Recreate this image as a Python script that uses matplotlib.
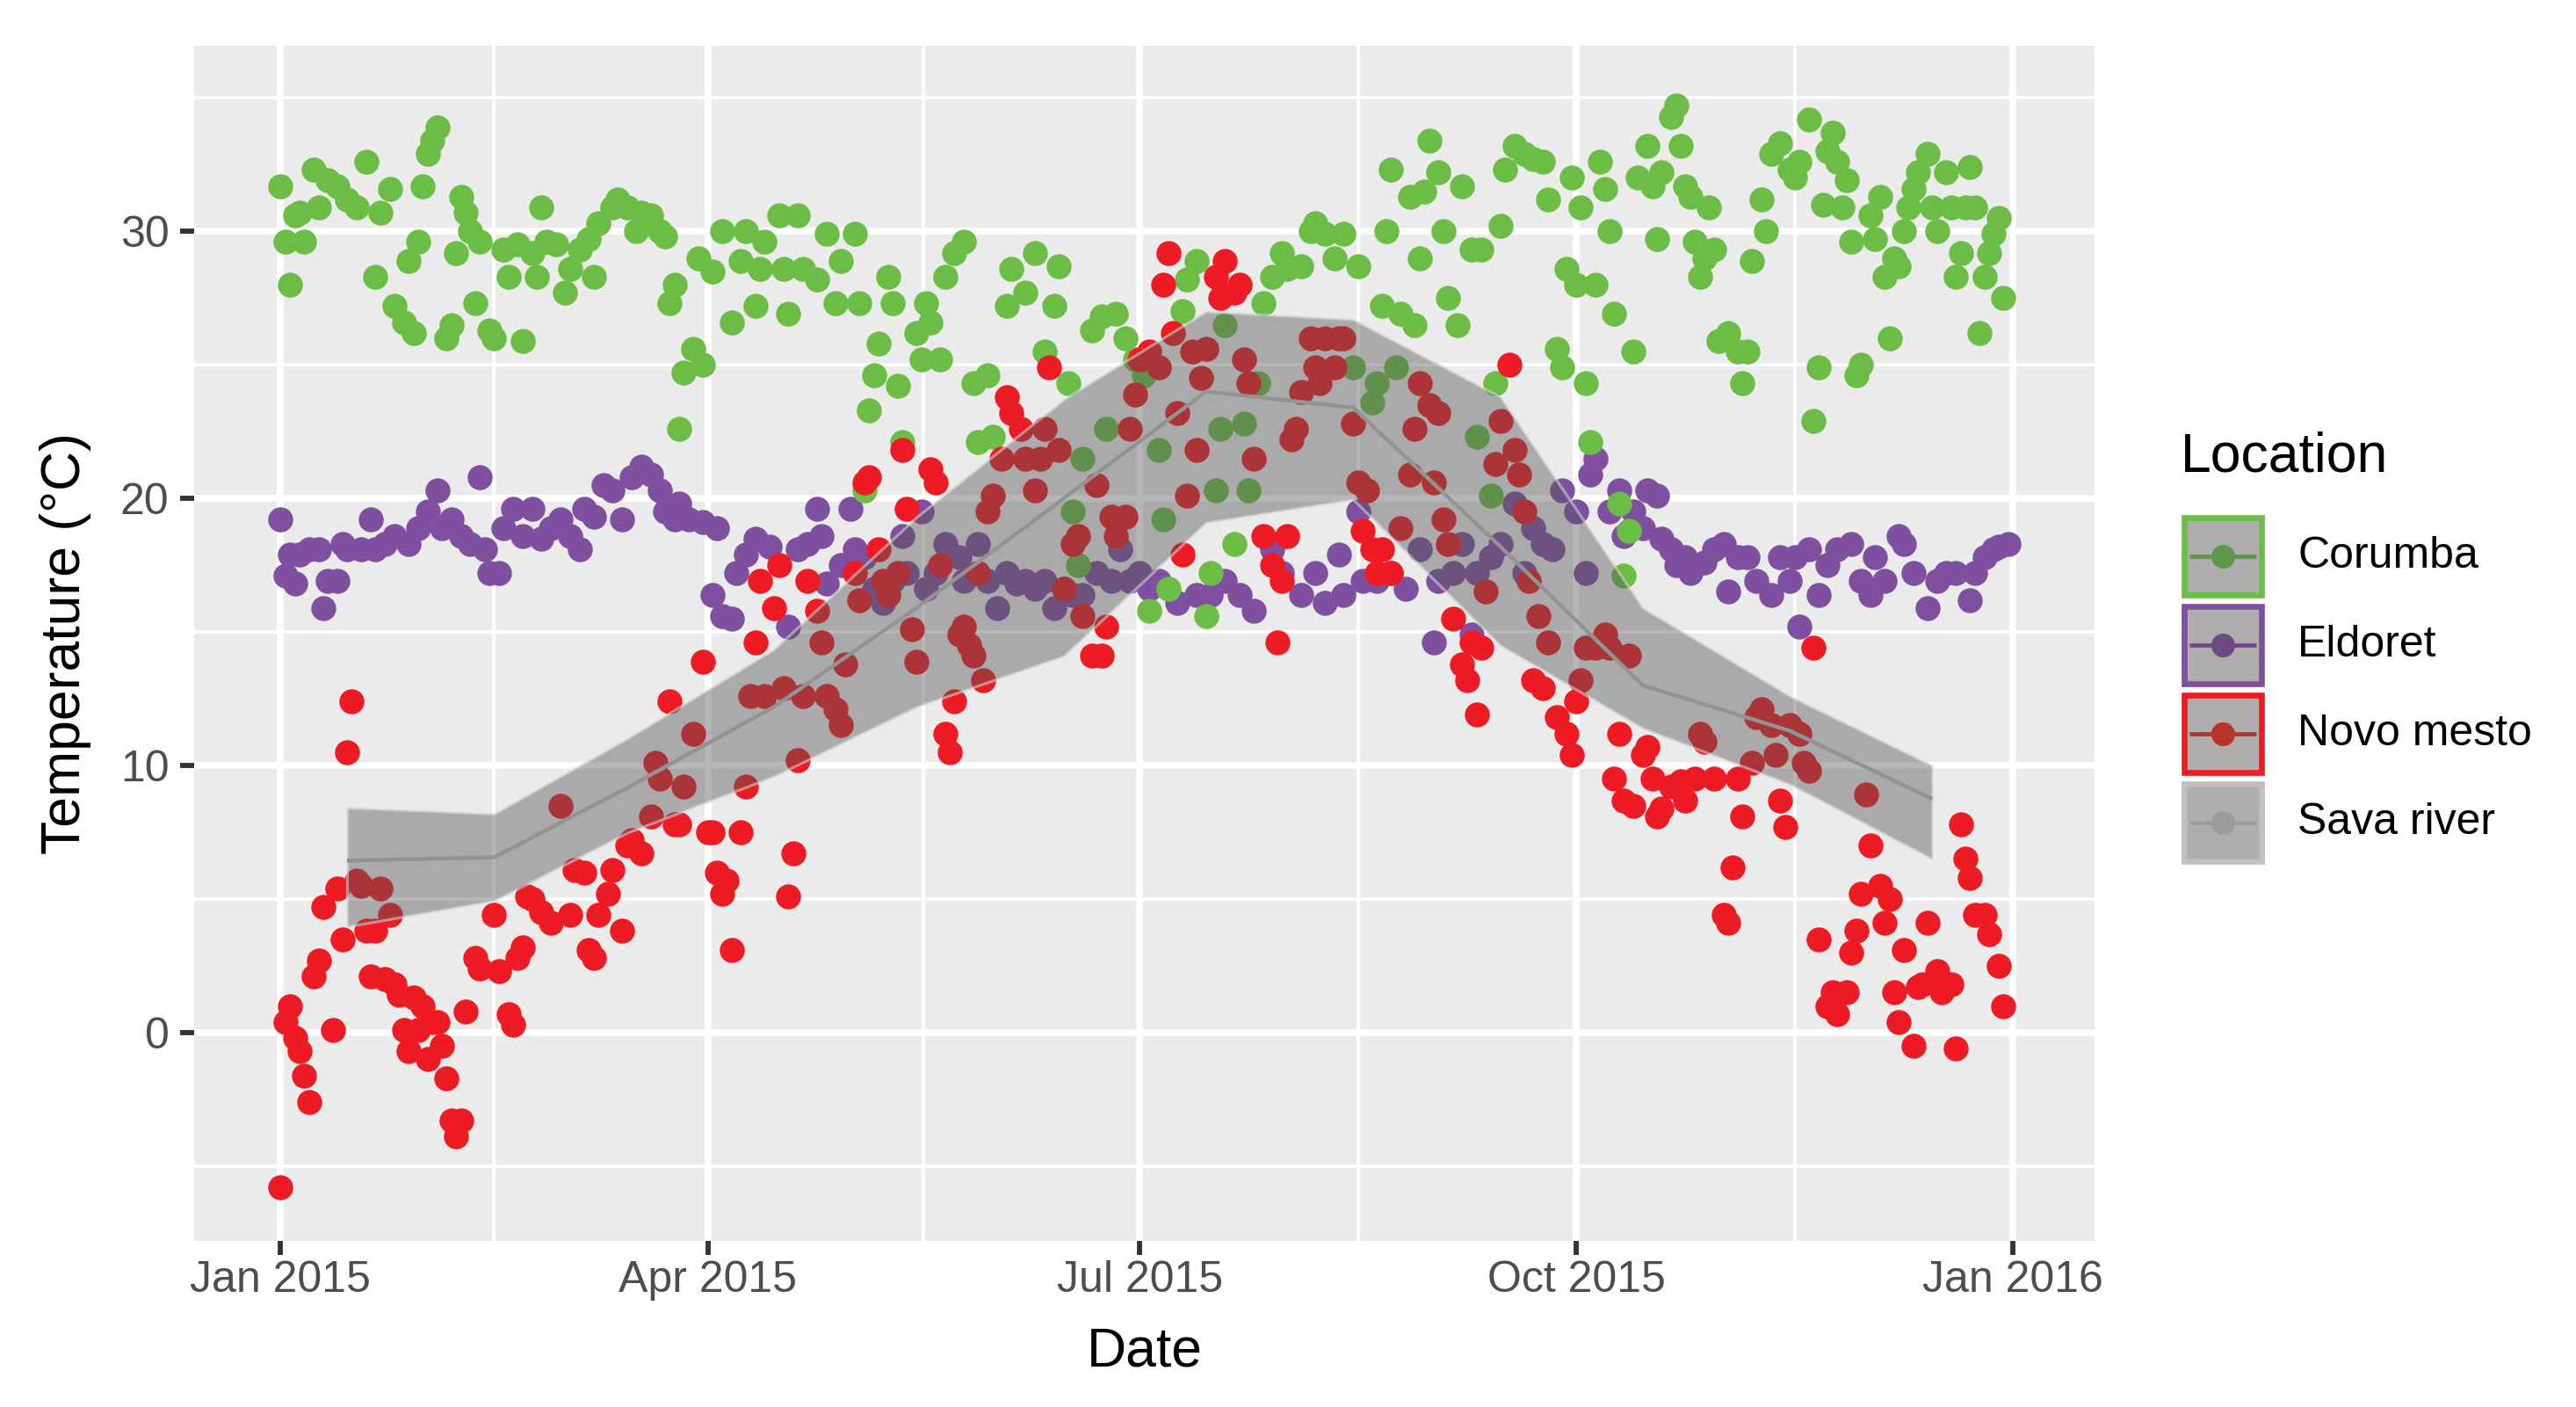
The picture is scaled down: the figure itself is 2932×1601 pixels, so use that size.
import numpy as np
import matplotlib
matplotlib.use("Agg")
import matplotlib.pyplot as plt
import matplotlib.dates as mdates
from matplotlib.patches import Rectangle

plt.rcParams['font.family'] = ['Liberation Sans', 'DejaVu Sans']

# ---------------- data (day offset from 2015-01-01, temperature) ----------------
corumba_day = [0, 1, 2, 3, 4, 5, 7, 8, 10, 12,
               14, 16, 18, 20, 21, 23, 24, 26, 27, 28,
               29, 30, 31, 32, 33, 35, 36, 37, 38, 39,
               40, 41, 42, 44, 45, 47, 48, 50, 51, 53,
               54, 55, 56, 58, 60, 61, 63, 65, 66, 67,
               70, 71, 73, 75, 76, 78, 80, 81, 82, 83,
               84, 85, 87, 88, 89, 91, 93, 95, 97, 98,
               100, 101, 102, 105, 106, 107, 109, 110, 113, 115,
               117, 118, 121, 122, 123, 124, 125, 126, 128, 129,
               130, 131, 134, 135, 136, 137, 139, 140, 142, 144,
               146, 147, 149, 150, 153, 154, 157, 159, 161, 163,
               164, 166, 167, 168, 169, 171, 173, 174, 176, 178,
               180, 182, 183, 185, 186, 187, 190, 191, 193, 195,
               196, 197, 198, 199, 201, 203, 204, 206, 207, 209,
               211, 212, 215, 217, 218, 220, 222, 224, 226, 227,
               230, 231, 232, 233, 234, 235, 236, 238, 239, 240,
               241, 242, 244, 245, 246, 248, 249, 251, 252, 253,
               255, 256, 257, 258, 260, 262, 264, 266, 267, 269,
               270, 271, 272, 273, 274, 275, 276, 277, 278, 279,
               280, 281, 282, 283, 284, 285, 286, 288, 289, 290,
               291, 293, 294, 295, 296, 297, 298, 299, 300, 301,
               302, 303, 305, 307, 308, 309, 310, 312, 313, 314,
               316, 318, 319, 320, 322, 323, 324, 325, 326, 327,
               328, 329, 330, 331, 332, 333, 335, 336, 337, 338,
               339, 340, 341, 342, 343, 344, 345, 347, 348, 349,
               351, 352, 353, 354, 355, 356, 357, 358, 359, 360,
               361, 362, 363]
corumba_temp = [31.7, 29.6, 28.0, 30.6, 30.7, 29.6, 32.3, 30.9, 31.9, 31.7,
                31.2, 30.9, 32.6, 28.3, 30.7, 31.6, 27.2, 26.6, 28.9, 26.2,
                29.6, 31.7, 32.9, 33.4, 33.9, 26.0, 26.5, 29.2, 31.3, 30.7,
                30.0, 27.3, 29.6, 26.3, 26.0, 29.3, 28.3, 29.5, 25.9, 29.2,
                28.3, 30.9, 29.6, 29.5, 27.7, 28.6, 29.3, 29.7, 28.3, 30.3,
                30.9, 31.2, 30.9, 30.0, 30.7, 30.6, 30.0, 29.8, 27.3, 28.0,
                22.6, 24.7, 25.6, 29.0, 25.0, 28.5, 30.0, 26.6, 28.9, 30.0,
                27.2, 28.6, 29.6, 30.6, 28.6, 26.9, 30.6, 28.6, 28.2, 29.9,
                27.3, 28.9, 29.9, 27.3, 20.3, 23.3, 24.6, 25.8, 28.3, 27.3,
                24.2, 22.1, 26.2, 25.2, 27.3, 26.6, 25.2, 28.3, 29.2, 29.6,
                24.3, 22.1, 24.6, 22.3, 27.2, 28.6, 27.7, 29.2, 25.5, 27.2,
                28.7, 24.3, 19.5, 17.5, 21.5, 26.3, 26.8, 22.6, 26.9, 26.0,
                25.2, 24.6, 15.8, 21.8, 19.2, 16.6, 27.0, 28.2, 28.9, 15.6,
                17.2, 20.3, 22.6, 26.5, 18.3, 22.8, 20.3, 24.3, 27.3, 28.3,
                29.2, 28.6, 28.7, 30.0, 30.3, 29.9, 29.0, 29.9, 24.9, 28.7,
                23.6, 24.3, 27.2, 30.0, 32.3, 24.9, 26.9, 31.3, 26.5, 29.0,
                31.5, 33.4, 32.2, 30.0, 27.5, 26.5, 31.7, 29.3, 22.3, 29.3,
                20.1, 24.3, 30.2, 32.3, 33.2, 32.9, 32.7, 32.6, 31.2, 25.6,
                24.9, 28.6, 32.0, 28.0, 30.9, 24.3, 22.1, 28.0, 32.6, 31.6,
                30.0, 26.9, 19.8, 17.1, 18.8, 25.5, 32.0, 33.2, 31.7, 29.7,
                32.2, 34.3, 34.7, 33.2, 31.7, 31.3, 29.6, 28.3, 29.0, 30.9,
                29.3, 25.9, 26.2, 25.5, 24.3, 25.5, 28.9, 31.2, 30.0, 32.9,
                33.3, 32.3, 32.0, 32.6, 34.2, 22.9, 24.9, 31.0, 33.0, 33.7,
                32.6, 30.9, 31.9, 29.6, 24.6, 25.0, 30.6, 29.7, 31.3, 28.3,
                26.0, 29.0, 28.7, 30.0, 30.9, 31.6, 32.2, 32.9, 30.9, 30.0,
                32.2, 30.9, 28.3, 29.2, 30.9, 32.4, 30.9, 26.2, 28.3, 29.2,
                29.9, 30.5, 27.5]

eldoret_day = [0, 1, 2, 3, 4, 6, 8, 9, 10, 12,
               13, 14, 17, 19, 20, 22, 24, 27, 29, 31,
               33, 34, 36, 38, 40, 42, 43, 44, 46, 47,
               49, 51, 53, 55, 57, 59, 61, 63, 64, 66,
               68, 70, 72, 74, 76, 78, 80, 81, 83, 84,
               86, 89, 91, 92, 93, 95, 96, 98, 100, 103,
               107, 109, 111, 113, 114, 115, 118, 120, 121, 123,
               125, 127, 129, 131, 132, 135, 136, 138, 140, 143,
               144, 147, 149, 151, 153, 155, 157, 159, 161, 163,
               165, 167, 169, 172, 175, 177, 179, 181, 183, 185,
               189, 193, 196, 199, 202, 205, 209, 211, 215, 218,
               220, 223, 224, 227, 228, 231, 234, 237, 240, 243,
               244, 247, 249, 251, 252, 255, 257, 260, 262, 264,
               266, 268, 270, 273, 275, 276, 277, 280, 282, 283,
               285, 287, 288, 290, 291, 293, 294, 296, 297, 300,
               302, 304, 305, 307, 309, 311, 314, 316, 318, 319,
               320, 322, 324, 326, 328, 331, 333, 335, 336, 338,
               341, 342, 344, 347, 349, 351, 353, 356, 357, 359,
               361, 362, 364]
eldoret_temp = [19.2, 17.1, 17.9, 16.8, 17.9, 18.1, 18.1, 15.9, 16.9, 16.9,
                18.3, 18.1, 18.1, 19.2, 18.1, 18.3, 18.6, 18.3, 18.9, 19.5,
                20.3, 18.9, 19.2, 18.6, 18.3, 20.8, 18.1, 17.2, 17.2, 18.9,
                19.6, 18.6, 19.6, 18.5, 18.9, 19.2, 18.6, 18.1, 19.6, 19.3,
                20.5, 20.3, 19.2, 20.8, 21.2, 20.9, 20.3, 19.5, 19.2, 19.8,
                19.2, 19.1, 16.4, 18.9, 15.6, 15.5, 17.2, 17.9, 18.5, 18.2,
                15.2, 18.1, 18.3, 19.6, 18.6, 16.8, 17.5, 19.6, 18.1, 17.8,
                16.6, 16.1, 16.9, 18.6, 17.2, 19.5, 16.6, 17.2, 18.3, 17.8,
                16.9, 18.3, 16.9, 15.9, 17.2, 16.8, 16.9, 16.6, 16.9, 15.9,
                16.6, 16.4, 16.4, 17.2, 16.9, 18.1, 16.9, 17.2, 16.6, 16.9,
                16.1, 16.4, 16.4, 16.9, 16.4, 15.8, 18.1, 17.2, 16.4, 17.2,
                16.1, 17.9, 16.4, 19.5, 16.9, 16.9, 17.2, 16.6, 18.1, 14.6,
                16.9, 17.2, 18.3, 14.9, 17.2, 17.8, 18.3, 19.8, 17.2, 18.9,
                18.3, 18.1, 20.3, 19.5, 17.2, 20.9, 21.5, 19.5, 20.3, 18.6,
                19.5, 18.9, 20.3, 20.1, 18.5, 18.1, 17.5, 17.8, 17.2, 17.6,
                18.1, 18.3, 16.5, 17.8, 17.8, 16.9, 16.4, 17.8, 16.9, 17.8,
                15.2, 18.1, 16.4, 17.5, 18.1, 18.3, 16.9, 16.4, 17.8, 16.9,
                18.6, 18.3, 17.2, 15.9, 16.9, 17.2, 17.2, 16.2, 17.2, 17.8,
                18.1, 18.2, 18.3]

novo_day = [0, 1, 2, 3, 4, 5, 6, 7, 8, 9,
            11, 12, 13, 14, 15, 16, 17, 18, 19, 20,
            21, 22, 23, 24, 25, 26, 27, 28, 29, 30,
            31, 32, 33, 34, 35, 36, 37, 38, 39, 41,
            42, 45, 46, 48, 49, 50, 51, 52, 53, 55,
            57, 59, 61, 62, 64, 65, 66, 67, 69, 70,
            72, 73, 74, 76, 78, 79, 80, 82, 83, 84,
            85, 87, 89, 90, 91, 92, 93, 94, 95, 97,
            98, 99, 100, 101, 102, 104, 105, 106, 107, 108,
            109, 110, 111, 113, 114, 115, 117, 118, 119, 121,
            122, 123, 124, 126, 127, 128, 130, 131, 132, 133,
            134, 137, 138, 139, 140, 141, 142, 143, 144, 145,
            146, 147, 148, 149, 150, 152, 153, 154, 156, 157,
            159, 160, 161, 162, 164, 165, 167, 168, 169, 171,
            172, 173, 174, 175, 176, 178, 179, 180, 181, 183,
            185, 186, 187, 188, 189, 190, 191, 192, 193, 194,
            195, 197, 198, 199, 201, 202, 203, 204, 205, 207,
            209, 210, 211, 212, 213, 214, 215, 217, 218, 219,
            220, 222, 223, 224, 226, 227, 228, 229, 230, 231,
            232, 234, 236, 238, 239, 240, 242, 243, 244, 245,
            246, 247, 249, 250, 251, 252, 253, 254, 256, 257,
            259, 260, 261, 262, 263, 264, 265, 266, 267, 269,
            271, 272, 273, 274, 275, 277, 279, 280, 281, 282,
            283, 284, 285, 287, 288, 289, 290, 291, 293, 295,
            296, 298, 299, 300, 302, 304, 305, 306, 307, 308,
            310, 311, 312, 314, 315, 316, 317, 318, 320, 321,
            322, 323, 324, 326, 327, 328, 330, 331, 332, 333,
            334, 335, 337, 338, 339, 340, 341, 342, 344, 345,
            346, 347, 349, 350, 351, 352, 353, 354, 355, 356,
            357, 359, 360, 362, 363]
novo_temp = [-5.8, 0.4, 1.0, -0.2, -0.7, -1.6, -2.6, 2.1, 2.7, 4.7,
             0.1, 5.4, 3.5, 10.5, 12.4, 5.7, 5.5, 3.8, 2.1, 3.8,
             5.4, 2.0, 4.4, 1.8, 1.4, 0.1, -0.7, 1.3, 0.1, 1.0,
             -1.0, 0.4, 0.4, -0.5, -1.7, -3.3, -3.9, -3.3, 0.8, 2.8,
             2.4, 4.4, 2.3, 0.7, 0.3, 2.8, 3.2, 5.1, 5.0, 4.5,
             4.1, 8.5, 4.4, 6.1, 6.0, 3.1, 2.8, 4.4, 5.2, 6.1,
             3.8, 7.0, 7.2, 6.7, 8.1, 10.1, 9.5, 12.4, 7.8, 7.8,
             9.2, 11.2, 13.9, 7.5, 7.5, 6.0, 5.2, 5.7, 3.1, 7.5,
             9.2, 12.6, 14.6, 16.9, 12.6, 15.9, 17.5, 12.9, 5.1, 6.7,
             10.2, 12.6, 16.9, 15.8, 14.6, 12.6, 12.1, 11.5, 13.8, 17.2,
             16.2, 20.6, 20.8, 18.1, 16.9, 16.4, 17.2, 21.8, 19.6, 15.1,
             13.9, 21.1, 20.6, 17.5, 11.2, 10.5, 12.4, 14.9, 15.2, 14.5,
             14.1, 17.2, 13.2, 19.5, 20.1, 21.5, 23.8, 23.2, 22.6, 21.5,
             20.3, 21.5, 22.6, 24.9, 21.8, 16.6, 18.3, 18.6, 15.6, 14.1,
             20.5, 14.1, 15.2, 19.3, 18.6, 19.3, 22.6, 23.9, 25.2, 25.5,
             24.9, 28.0, 29.2, 26.2, 23.2, 17.9, 20.1, 25.5, 21.8, 24.5,
             25.6, 28.3, 27.5, 28.9, 27.7, 28.0, 25.2, 24.3, 21.5, 18.6,
             17.5, 14.6, 16.9, 18.6, 22.2, 22.6, 24.0, 26.0, 24.9, 24.3,
             26.0, 24.9, 26.0, 26.0, 22.8, 20.6, 18.8, 20.3, 18.1, 17.2,
             18.1, 17.2, 18.9, 20.9, 22.6, 24.3, 23.5, 20.6, 23.2, 19.2,
             18.3, 15.5, 13.8, 13.2, 14.6, 11.9, 14.4, 16.5, 21.3, 22.9,
             25.0, 21.8, 20.9, 19.5, 16.9, 13.2, 15.6, 12.9, 14.6, 11.8,
             11.2, 10.4, 12.4, 13.2, 14.4, 14.4, 14.9, 14.4, 9.5, 11.2,
             8.7, 14.1, 8.5, 10.4, 10.7, 9.5, 8.1, 8.4, 9.2, 9.4,
             8.7, 9.5, 11.2, 10.9, 9.5, 4.4, 4.1, 6.2, 9.5, 8.1,
             10.1, 11.8, 12.1, 11.5, 10.4, 8.7, 7.7, 11.5, 11.2, 10.1,
             9.8, 14.4, 3.5, 1.0, 1.5, 0.7, 1.5, 3.0, 3.8, 5.2,
             8.9, 7.0, 5.5, 4.1, 5.0, 1.5, 0.4, 3.1, -0.5, 1.7,
             1.8, 4.1, 2.3, 1.5, 1.8, 1.8, -0.6, 7.8, 6.5, 5.8,
             4.4, 4.4, 3.7, 2.5, 1.0]

# Sava river: monthly values (mid-month)
sava_day = [14, 45, 73, 104, 134, 165, 195, 226, 257, 287, 318, 348]
sava_mean = [6.44, 6.56, 9.16, 12.2, 15.9, 20.0, 24.0, 23.4, 18.2, 13.0, 11.3, 8.75]
sava_low = [3.97, 4.94, 7.48, 9.6, 12.2, 14.1, 19.1, 19.96, 14.5, 11.4, 9.3, 6.5]
sava_high = [8.42, 8.19, 11.0, 14.35, 19.3, 23.7, 27.0, 26.7, 23.8, 15.9, 12.6, 10.0]

locations = ['Corumba', 'Eldoret', 'Novo mesto', 'Sava river']
x_tick_dates = ['2015-01-01', '2015-04-01', '2015-07-01', '2015-10-01', '2016-01-01']
x_tick_labels = ['Jan 2015', 'Apr 2015', 'Jul 2015', 'Oct 2015', 'Jan 2016']
y_ticks = [0, 10, 20, 30]

assert len(corumba_day) == len(corumba_temp)
assert len(eldoret_day) == len(eldoret_temp)
assert len(novo_day) == len(novo_temp)

# ---------------- styling ----------------
C_GREEN = '#6bbd45'
C_PURPLE = '#8050a0'
C_RED = '#ed1c24'
C_SAVA = '#bfbfbf'

W, H = 2932, 1601
fig = plt.figure(figsize=(W / 100, H / 100), dpi=100)
fig.patch.set_facecolor('white')

L, R, T, B = 221, 2384, 52, 1412
ax = fig.add_axes([L / W, 1 - B / H, (R - L) / W, (B - T) / H])
ax.set_facecolor('#ebebeb')
for s in ax.spines.values():
    s.set_visible(False)

start = np.datetime64('2015-01-01')


def to_num(days):
    return mdates.date2num(start + np.array(days, dtype='timedelta64[D]'))


x0 = mdates.date2num(start)
ax.set_xlim(x0 - 18.2, x0 + 382.2)
ax.set_ylim(-7.8, 36.95)

# points
msize = 420
ax.scatter(to_num(eldoret_day), eldoret_temp, s=msize, c=C_PURPLE, linewidths=0, zorder=2)
ax.scatter(to_num(corumba_day), corumba_temp, s=msize, c=C_GREEN, linewidths=0, zorder=2)
ax.scatter(to_num(novo_day), novo_temp, s=msize, c=C_RED, linewidths=0, zorder=2)

# Sava river ribbon + line
sx = to_num(sava_day)
ax.fill_between(sx, sava_low, sava_high, facecolor=(0.337, 0.337, 0.337, 0.43),
                edgecolor=(0.86, 0.86, 0.86, 0.55), linewidth=2.2, zorder=3)
ax.plot(sx, sava_mean, color='#939393', lw=3.2, zorder=4, solid_capstyle='butt')

# ticks and grid
major_x = [mdates.date2num(np.datetime64(d)) for d in x_tick_dates]
minor_x = [(a + b) / 2 for a, b in zip(major_x[:-1], major_x[1:])]
ax.set_xticks(major_x)
ax.set_xticklabels(x_tick_labels)
ax.set_xticks(minor_x, minor=True)
ax.set_yticks(y_ticks)
ax.set_yticklabels([str(v) for v in y_ticks])
ax.set_yticks([-5, 5, 15, 25, 35], minor=True)

ax.grid(which='major', color='white', lw=5.5)
ax.grid(which='minor', color='white', lw=2.8)
ax.set_axisbelow(True)

ax.tick_params(which='major', length=11.5, width=4.2, color='#333333',
               labelsize=36, labelcolor='#4d4d4d')
ax.tick_params(axis='x', which='major', pad=4)
ax.tick_params(axis='y', which='major', pad=9)
ax.tick_params(which='minor', length=0)

# axis titles
fig.text((L + R) / 2 / W, 1 - 1554 / H, 'Date', ha='center', va='baseline',
         fontsize=45, color='black')
fig.text(91 / W, 1 - ((T + B) / 2) / H, 'Temperature (°C)', rotation=90,
         rotation_mode='anchor', ha='center', va='baseline', fontsize=45, color='black')

# ---------------- legend (drawn in pixel space) ----------------
lax = fig.add_axes([0, 0, 1, 1])
lax.set_xlim(0, W)
lax.set_ylim(H, 0)
lax.axis('off')
lax.patch.set_alpha(0)

lax.text(2482, 536, 'Location', fontsize=45, ha='left', va='baseline', color='black')

key_border = [C_GREEN, C_PURPLE, C_RED, C_SAVA]
key_inner = ['#5e964a', '#6e4a84', '#b5352d', '#9b9b9b']
kx0, kw, kh = 2483, 94, 94
for i, name in enumerate(locations):
    ty = 586 + i * 101
    lax.add_patch(Rectangle((kx0 + 3.3, ty + 3.3), kw - 6.6, kh - 6.6,
                            facecolor='#b0adad', edgecolor=key_border[i], linewidth=4.8))
    cy = ty + kh / 2
    lax.plot([kx0 + 9, kx0 + kw - 9], [cy, cy], color=key_inner[i], lw=3.4,
             solid_capstyle='butt')
    lax.scatter([kx0 + kw / 2], [cy], s=380, c=key_inner[i], linewidths=0, zorder=5)
    lax.text(2615, cy, name, fontsize=36, ha='left', va='center', color='black')

fig.savefig('out.png', dpi=100, facecolor='white')
